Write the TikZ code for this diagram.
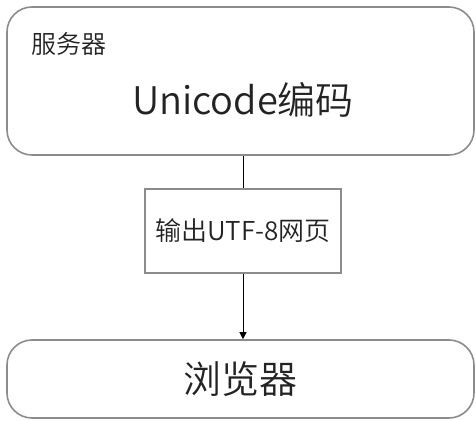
\documentclass[tikz,border=0pt]{standalone}
\usepackage{fontspec}
\setmainfont{Noto Sans CJK SC}[UprightFont=* DemiLight]
\usetikzlibrary{arrows.meta}
\definecolor{boxgray}{RGB}{140,140,140}
\definecolor{inkgray}{RGB}{35,35,35}
\tikzset{
  roundbox/.style={draw=boxgray, line width=1.6pt, rounded corners=25pt, minimum width=467pt, inner sep=0pt},
  plainbox/.style={draw=boxgray, line width=1.6pt, minimum width=196pt, minimum height=84pt, inner sep=0pt},
  link/.style={line width=0.8pt, -{Triangle[length=7pt,width=7pt]}}
}

\begin{document}
\begin{tikzpicture}[x=1pt,y=1pt, text=inkgray]
        \useasboundingbox (0,0) rectangle (476,420);
        % boxes
        \node[roundbox, minimum height=148pt] (server) at (240.5,339) {};
        \node[plainbox, font=\fontsize{26}{30}\selectfont] (output) at (243,189) {输出UTF-8网页};
        \node[roundbox, minimum height=78pt] (browser) at (240.5,41) {\fontsize{38}{44}\selectfont 浏览器};
        % texts in the server box
        \node[anchor=west, font=\fontsize{25}{30}\selectfont, inner sep=0pt] (servername) at (31,376) {服务器};
        \node[font=\fontsize{38}{44}\selectfont, inner sep=0pt] (encoding) at (243,320) {Unicode编码};
        % connectors
        \draw[line width=0.8pt] (server.south -| output.north) -- (output.north);
        \draw[link] (output.south) -- (browser.north -| output.south);
    \end{tikzpicture}
\end{document}
